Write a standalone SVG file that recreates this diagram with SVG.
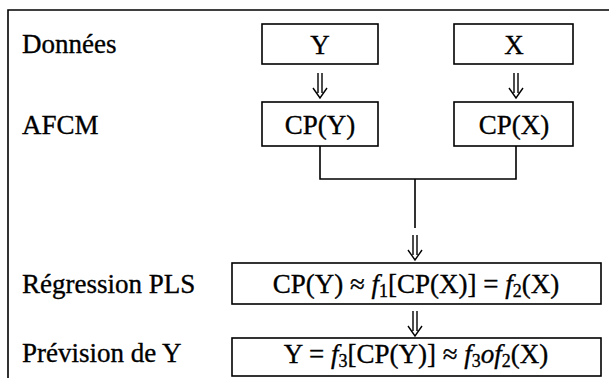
<svg xmlns="http://www.w3.org/2000/svg" width="609" height="378" viewBox="0 0 609 378">
<style>
text{font-family:"Liberation Serif","Times New Roman",serif;font-size:27px;fill:#000;stroke:#000;stroke-width:0.35}
.c{text-anchor:middle}
.i{font-style:italic}
.s{font-size:18px}
.box{fill:#fff;stroke:#000;stroke-width:1.6}
.ln{fill:none;stroke:#000;stroke-width:1.6}
.ar{fill:none;stroke:#000;stroke-width:1.4}
</style>
<rect width="609" height="378" fill="#fff"/>
<g id="frame"><path class="ln" d="M8,378 V10 H609"/></g>
<g id="labels">
<text x="22" y="53">Données</text>
<text x="22" y="134">AFCM</text>
<text x="22" y="293">Régression PLS</text>
<text x="22" y="362">Prévision de Y</text>
</g>
<g id="connectors">
<path class="ln" d="M320,146 V179 H516 V146 M415,179 V228"/>
<path class="ar" d="M318,73 V93 M322,73 V93 M313,88 L320,98 L327,88"/>
<path class="ar" d="M514,73 V93 M518,73 V93 M509,88 L516,98 L523,88"/>
<path class="ar" d="M413,235 V255 M417,235 V255 M408,250 L415,260 L422,250"/>
<path class="ar" d="M413,311 V331 M417,311 V331 M408,326 L415,336 L422,326"/>
</g>
<g id="nodeY"><rect class="box" x="262" y="24" width="116" height="40"/><text class="c" x="320" y="54">Y</text></g>
<g id="nodeX"><rect class="box" x="454" y="24" width="119" height="40"/><text class="c" x="514" y="54">X</text></g>
<g id="nodeCPY"><rect class="box" x="262" y="102" width="116" height="44"/><text class="c" x="320" y="134">CP(Y)</text></g>
<g id="nodeCPX"><rect class="box" x="454" y="102" width="119" height="44"/><text class="c" x="514" y="134">CP(X)</text></g>
<g id="nodeReg"><rect class="box" x="232" y="263" width="369" height="41"/><text class="c" x="416" y="293">CP(Y) ≈ <tspan class="i">f</tspan><tspan class="s" dy="4">1</tspan><tspan dy="-4">[CP(X)] = </tspan><tspan class="i">f</tspan><tspan class="s" dy="4">2</tspan><tspan dy="-4">(X)</tspan></text></g>
<g id="nodePrev"><rect class="box" x="232" y="338" width="369" height="38"/><text class="c" x="416" y="363">Y = <tspan class="i">f</tspan><tspan class="s" dy="4">3</tspan><tspan dy="-4">[CP(Y)] ≈ </tspan><tspan class="i">f</tspan><tspan class="s" dy="4">3</tspan><tspan dy="-4" class="i">o</tspan><tspan class="i">f</tspan><tspan class="s" dy="4">2</tspan><tspan dy="-4">(X)</tspan></text></g>
</svg>
